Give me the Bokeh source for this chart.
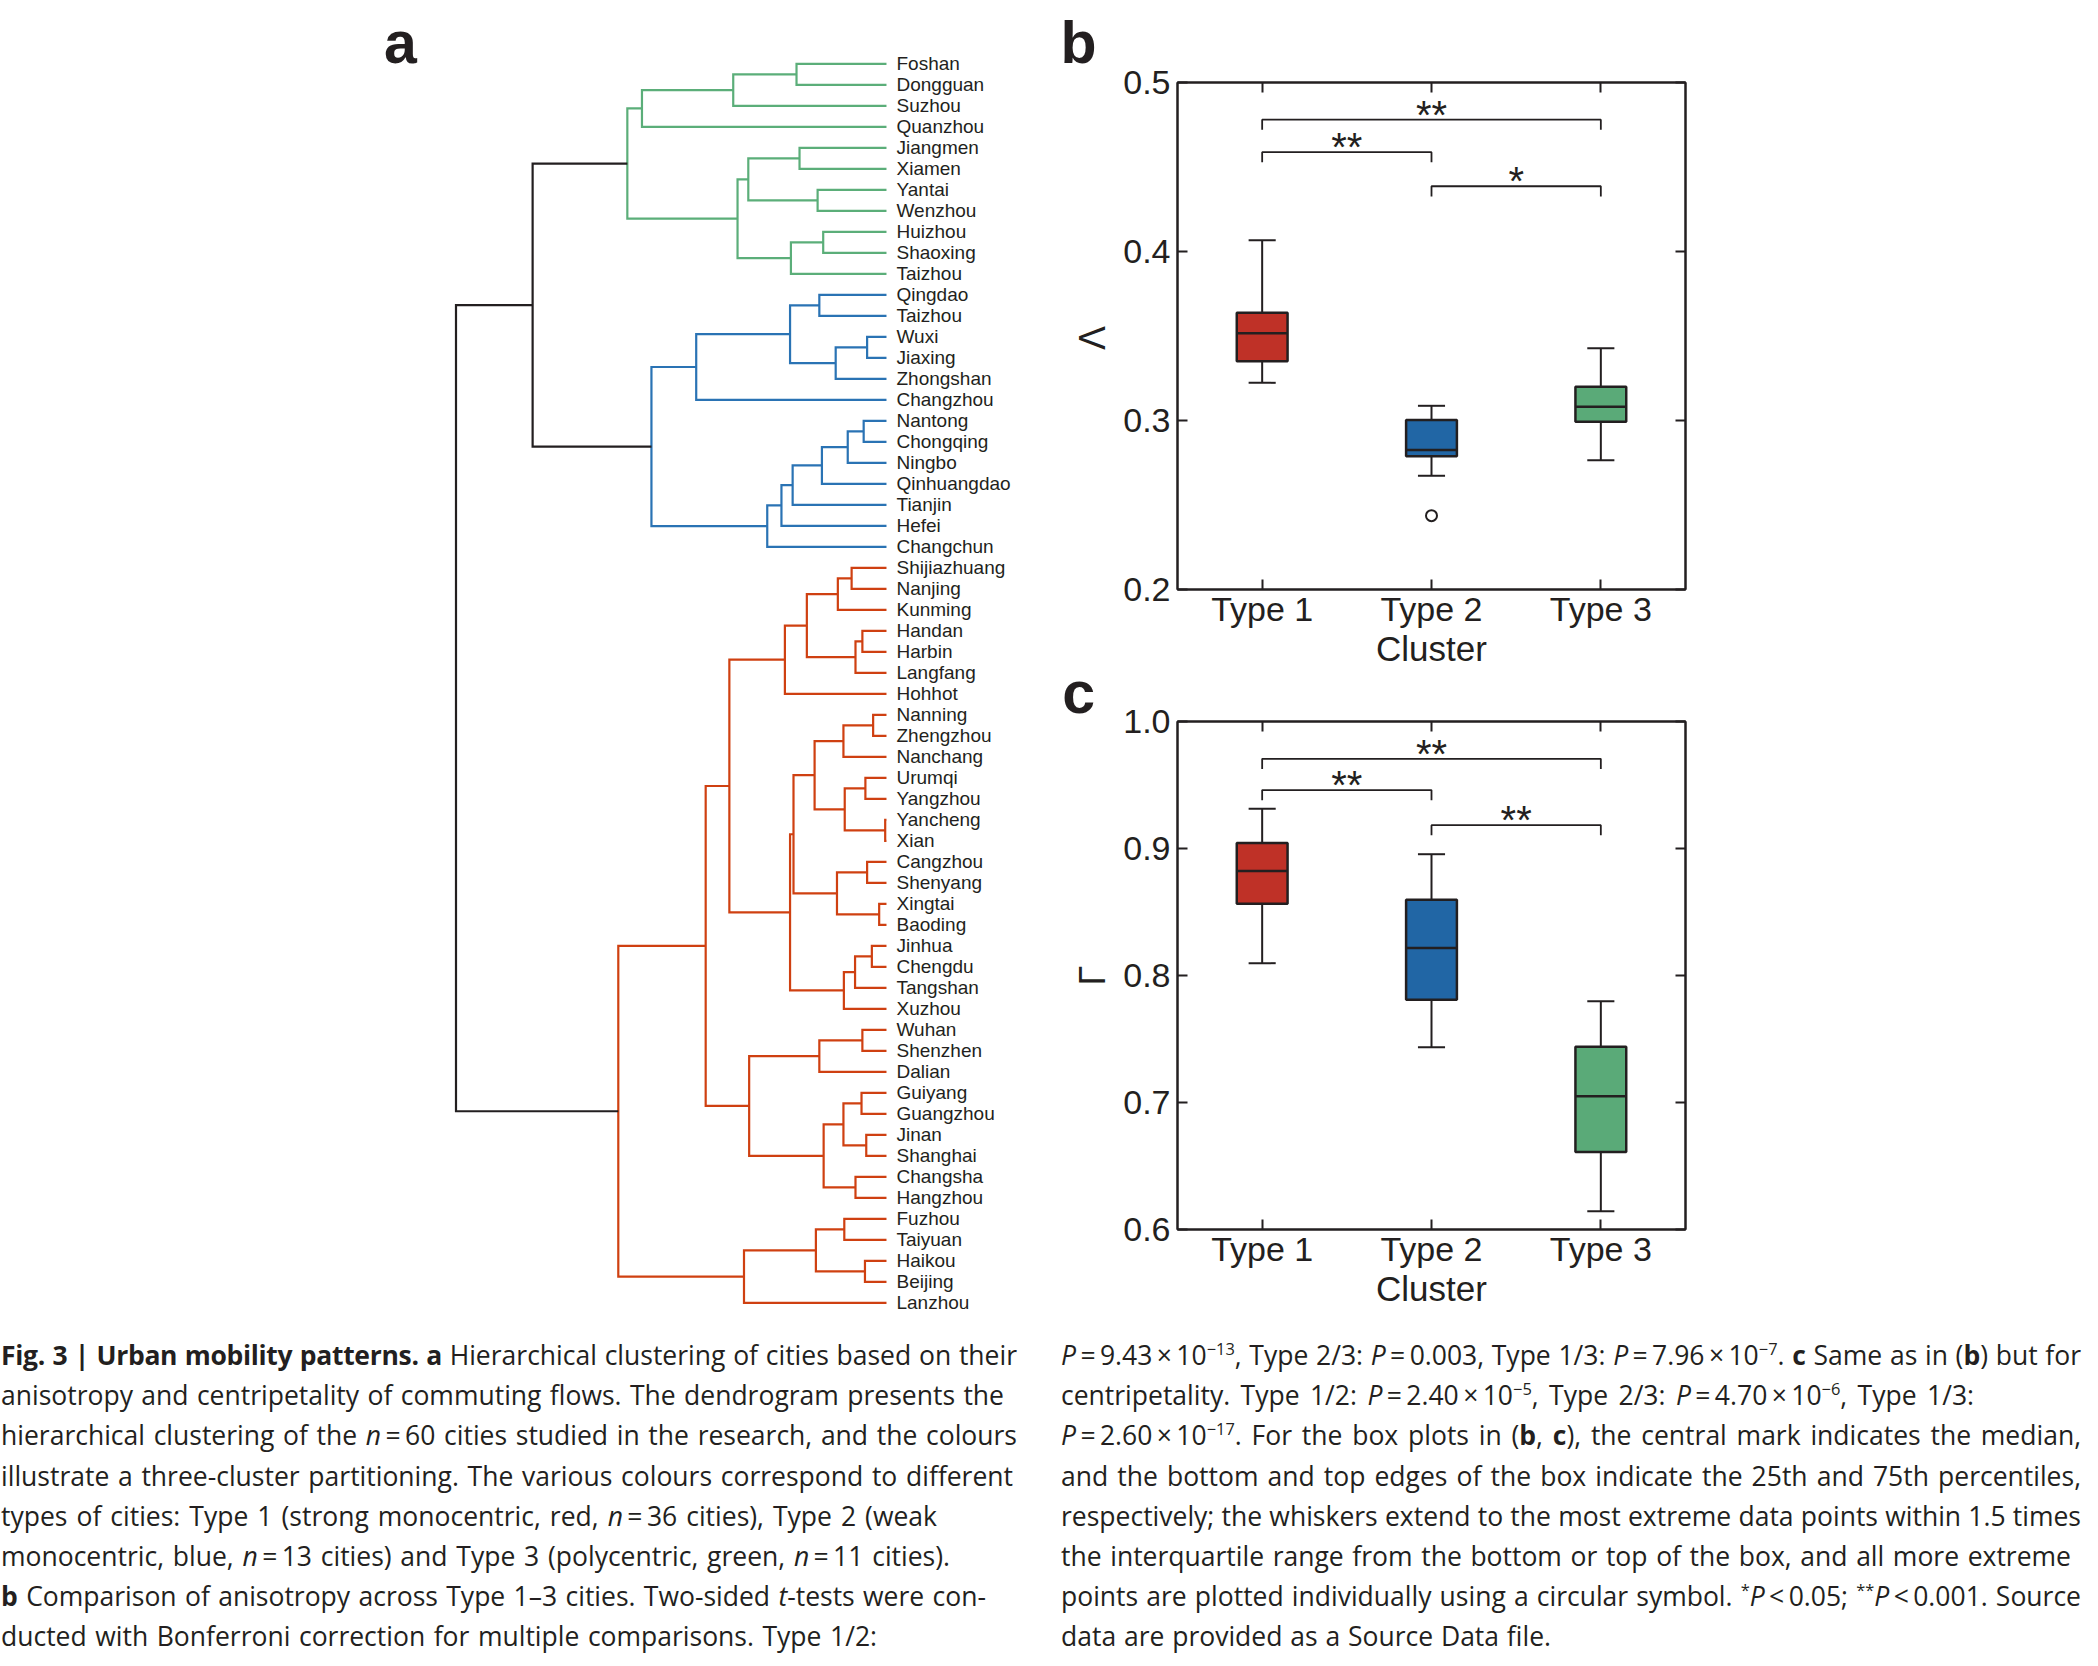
from bokeh.plotting import figure
from bokeh.models import Range1d, Label, LinearAxis, FixedTicker, Div, PrintfTickFormatter
from bokeh.layouts import row, column
from bokeh.embed import file_html
from bokeh.resources import INLINE
from bokeh.core.properties import value

# ---------------- data ----------------
cities = ["Foshan", "Dongguan", "Suzhou", "Quanzhou", "Jiangmen", "Xiamen", "Yantai", "Wenzhou",
          "Huizhou", "Shaoxing", "Taizhou", "Qingdao", "Taizhou", "Wuxi", "Jiaxing", "Zhongshan",
          "Changzhou", "Nantong", "Chongqing", "Ningbo", "Qinhuangdao", "Tianjin", "Hefei",
          "Changchun", "Shijiazhuang", "Nanjing", "Kunming", "Handan", "Harbin", "Langfang",
          "Hohhot", "Nanning", "Zhengzhou", "Nanchang", "Urumqi", "Yangzhou", "Yancheng", "Xian",
          "Cangzhou", "Shenyang", "Xingtai", "Baoding", "Jinhua", "Chengdu", "Tangshan", "Xuzhou",
          "Wuhan", "Shenzhen", "Dalian", "Guiyang", "Guangzhou", "Jinan", "Shanghai", "Changsha",
          "Hangzhou", "Fuzhou", "Taiyuan", "Haikou", "Beijing", "Lanzhou"]
# cluster type of each city (3 = polycentric, 2 = weak monocentric, 1 = strong monocentric)
city_type = [3, 3, 3, 3, 3, 3, 3, 3, 3, 3, 3,
             2, 2, 2, 2, 2, 2, 2, 2, 2, 2, 2, 2, 2,
             1, 1, 1, 1, 1, 1, 1, 1, 1, 1, 1, 1, 1, 1, 1, 1, 1, 1,
             1, 1, 1, 1, 1, 1, 1, 1, 1, 1, 1, 1, 1, 1, 1, 1, 1, 1]
# linkage (scipy style: leaves 0..59, merged nodes numbered from 60 on), heights relative to root
merge_left = [0, 60, 61, 4, 6, 63, 8, 66, 65, 62,
              11, 13, 71, 70, 73, 17, 75, 76, 77, 78, 79, 74, 69,
              24, 83, 27, 85, 84, 87, 31, 89, 34, 36, 91, 90, 38, 40, 95, 94,
              42, 99, 100, 98, 88, 46, 104, 49, 51, 106, 53, 108, 105, 103,
              55, 57, 113, 115, 112, 82]
merge_right = [1, 2, 3, 5, 7, 64, 9, 10, 67, 68,
               12, 14, 15, 72, 16, 18, 19, 20, 21, 22, 23, 80, 81,
               25, 26, 28, 29, 86, 30, 32, 33, 35, 37, 92, 93, 39, 41, 96, 97,
               43, 44, 45, 101, 102, 47, 48, 50, 52, 107, 54, 109, 110, 111,
               56, 58, 114, 59, 116, 117]
merge_height = [0.209, 0.356, 0.568, 0.202, 0.160, 0.321, 0.147, 0.222, 0.346, 0.602,
                0.156, 0.045, 0.118, 0.224, 0.442, 0.053, 0.090, 0.150, 0.218, 0.244, 0.277, 0.546, 0.822,
                0.081, 0.113, 0.056, 0.072, 0.185, 0.236, 0.031, 0.100, 0.049, 0.003, 0.097, 0.167,
                0.045, 0.017, 0.115, 0.216,
                0.034, 0.073, 0.099, 0.224, 0.365, 0.056, 0.156, 0.058, 0.047, 0.100, 0.072, 0.146,
                0.319, 0.420,
                0.098, 0.050, 0.164, 0.331, 0.623, 1.000]

box_categories = ["Type 1", "Type 2", "Type 3"]
box_positions = [1, 2, 3]

aniso_low = [0.3223, 0.2673, 0.2765]
aniso_q1 = [0.3350, 0.2788, 0.2992]
aniso_med = [0.3517, 0.2826, 0.3082]
aniso_q3 = [0.3637, 0.3003, 0.3200]
aniso_high = [0.4066, 0.3087, 0.3427]
aniso_outlier_pos = [2]
aniso_outlier_val = [0.2437]
aniso_pair_left = [1, 1, 2]
aniso_pair_right = [3, 2, 3]
aniso_pair_y = [0.478, 0.4588, 0.4386]
aniso_pair_sig = ["**", "**", "*"]

centri_low = [0.8097, 0.7435, 0.6143]
centri_q1 = [0.8565, 0.7810, 0.6611]
centri_med = [0.8822, 0.8217, 0.7049]
centri_q3 = [0.9044, 0.8596, 0.7438]
centri_high = [0.9313, 0.8955, 0.7797]
centri_pair_left = [1, 1, 2]
centri_pair_right = [3, 2, 3]
centri_pair_y = [0.9706, 0.9460, 0.9184]
centri_pair_sig = ["**", "**", "**"]

# ---------------- styles ----------------
FONT = "Liberation Sans"
INK = "#231F20"
DENDRO_COLORS = {0: INK, 1: "#CF4011", 2: "#2A73B4", 3: "#5BAE79"}
BOX_COLORS = ["#BF3127", "#2166A5", "#5AAA78"]

# ---------------- panel a: dendrogram (this canvas also carries the panel letters) ----------------
n = len(cities)
node_h = [0.0] * n
node_y = [float(i) for i in range(n)]
node_t = list(city_type)
xs, ys, cols = [], [], []
for l, r, h in zip(merge_left, merge_right, merge_height):
    t = node_t[l] if node_t[l] == node_t[r] else 0
    xs.append([node_h[l], h, h, node_h[r]])
    ys.append([node_y[l], node_y[l], node_y[r], node_y[r]])
    cols.append(DENDRO_COLORS[t])
    node_h.append(h)
    node_y.append((node_y[l] + node_y[r]) / 2.0)
    node_t.append(t)

pa = figure(width=1120, height=1320, x_range=Range1d(2.0581, -0.5436), y_range=Range1d(59.843, -3.014),
            output_backend="svg", toolbar_location=None, x_axis_location=None, y_axis_location=None,
            min_border=0, min_border_left=0, min_border_right=0, min_border_top=0, min_border_bottom=0)
pa.grid.visible = False
pa.outline_line_color = None
pa.multi_line(xs=xs, ys=ys, line_color=cols, line_width=2.2, line_join="miter")
pa.text(x=[0.0] * n, y=list(range(n)), text=cities, x_offset=10, text_baseline="middle",
        text_align="left", text_font=value(FONT), text_font_size="19px", text_color=INK)
for txt, lx, ly in (("a", 1.167, -1.0), ("b", -0.404, -1.0), ("c", -0.408, 29.98)):
    pa.add_layout(Label(x=lx, y=ly, text=txt, text_font=FONT, text_font_size="59px",
                        text_font_style="bold", text_color=INK, text_baseline="alphabetic"))
# y-axis titles of panels b and c
for txt, ly in (("Λ", 13.06), ("Γ", 43.42)):
    pa.add_layout(Label(x=-0.4792, y=ly, text=txt, angle=1.5708, text_font=FONT, text_font_size="36px",
                        text_color=INK, text_align="center", text_baseline="middle"))


# ---------------- panels b, c: box plots ----------------
def box_panel(height, b_top, b_bot, ylim, yticks, low, q1, med, q3, high,
              pl, pr, py, psig, drop, out_pos=None, out_val=None):
    p = figure(width=962, height=height, x_range=Range1d(0.5, 3.5), y_range=Range1d(*ylim),
               output_backend="svg", toolbar_location=None,
               min_border_left=57, min_border_right=397, min_border_top=b_top, min_border_bottom=b_bot)
    p.grid.visible = False
    p.outline_line_color = INK
    p.outline_line_width = 2
    xa = p.xaxis[0]
    xa.ticker = FixedTicker(ticks=box_positions)
    xa.major_label_overrides = {pos: c for pos, c in zip(box_positions, box_categories)}
    xa.axis_label = "Cluster"
    ya = p.yaxis[0]
    ya.ticker = FixedTicker(ticks=yticks)
    ya.formatter = PrintfTickFormatter(format="%.1f")
    for ax in (xa, ya):
        ax.major_tick_in = 10
        ax.major_tick_out = 0
        ax.minor_tick_in = 0
        ax.minor_tick_out = 0
        ax.axis_line_color = INK
        ax.axis_line_width = 2
        ax.major_tick_line_color = INK
        ax.major_tick_line_width = 2
        ax.major_label_text_font = FONT
        ax.major_label_text_font_size = "34px"
        ax.major_label_text_color = INK
    xa.axis_label_text_font = FONT
    xa.axis_label_text_font_style = "normal"
    xa.axis_label_text_color = INK
    xa.major_label_standoff = 0
    xa.axis_label_standoff = -2
    xa.axis_label_text_font_size = "35px"
    ya.major_label_standoff = 7
    top = LinearAxis(ticker=FixedTicker(ticks=box_positions),
                     major_label_overrides={pos: "" for pos in box_positions})
    right = LinearAxis(ticker=FixedTicker(ticks=yticks),
                       major_label_overrides={t: "" for t in yticks})
    for ax in (top, right):
        ax.major_tick_in = 10
        ax.major_tick_out = 0
        ax.minor_tick_in = 0
        ax.minor_tick_out = 0
        ax.major_label_standoff = 0
        ax.major_label_text_font_size = "1px"
        ax.axis_line_color = INK
        ax.axis_line_width = 2
        ax.major_tick_line_color = INK
        ax.major_tick_line_width = 2
    p.add_layout(top, "above")
    p.add_layout(right, "right")

    cap = 0.08
    half = 0.15
    p.segment(x0=box_positions, y0=q3, x1=box_positions, y1=high, line_color=INK, line_width=2)
    p.segment(x0=box_positions, y0=q1, x1=box_positions, y1=low, line_color=INK, line_width=2)
    p.segment(x0=[x - cap for x in box_positions], y0=high, x1=[x + cap for x in box_positions], y1=high,
              line_color=INK, line_width=2)
    p.segment(x0=[x - cap for x in box_positions], y0=low, x1=[x + cap for x in box_positions], y1=low,
              line_color=INK, line_width=2)
    p.vbar(x=box_positions, width=2 * half, bottom=q1, top=q3, fill_color=BOX_COLORS,
           line_color=INK, line_width=2.5)
    p.segment(x0=[x - half for x in box_positions], y0=med, x1=[x + half for x in box_positions], y1=med,
              line_color=INK, line_width=2.5)
    if out_pos:
        p.scatter(x=out_pos, y=out_val, marker="circle", size=11, fill_color="white",
                  line_color=INK, line_width=2)
    p.multi_line(xs=[[a, a, b, b] for a, b in zip(pl, pr)],
                 ys=[[y - drop, y, y, y - drop] for y in py], line_color=INK, line_width=1.8)
    p.text(x=[(a + b) / 2 for a, b in zip(pl, pr)], y=py, text=psig, text_align="center",
           text_baseline="alphabetic", y_offset=-5, text_font=value(FONT), text_font_size="40px",
           text_color=INK)
    return p


pb = box_panel(677, 82, 88, (0.2, 0.5), [0.2, 0.3, 0.4, 0.5],
               aniso_low, aniso_q1, aniso_med, aniso_q3, aniso_high,
               aniso_pair_left, aniso_pair_right, aniso_pair_y, aniso_pair_sig, 0.0060,
               aniso_outlier_pos, aniso_outlier_val)
pc = box_panel(643, 44, 91, (0.6, 1.0), [0.6, 0.7, 0.8, 0.9, 1.0],
               centri_low, centri_q1, centri_med, centri_q3, centri_high,
               centri_pair_left, centri_pair_right, centri_pair_y, centri_pair_sig, 0.0080)

# ---------------- caption ----------------
S = "&thinsp;"
SUP = '<sup style="line-height:0; font-size:0.62em;">'
left_lines = [
    '<b style="letter-spacing:-0.3px;">Fig. 3 | Urban mobility patterns. a</b> Hierarchical clustering of cities based on their',
    "anisotropy and centripetality of commuting flows. The dendrogram presents the",
    f"hierarchical clustering of the <i>n</i>{S}={S}60 cities studied in the research, and the colours",
    "illustrate a three-cluster partitioning. The various colours correspond to different",
    f"types of cities: Type 1 (strong monocentric, red, <i>n</i>{S}={S}36 cities), Type 2 (weak",
    f"monocentric, blue, <i>n</i>{S}={S}13 cities) and Type 3 (polycentric, green, <i>n</i>{S}={S}11 cities).",
    "<b>b</b> Comparison of anisotropy across Type 1–3 cities. Two-sided <i>t</i>-tests were con-",
    "ducted with Bonferroni correction for multiple comparisons. Type 1/2:",
]
left_widths = [1016, 1003, 1016, 1012, 936, 949, 985, 876]
right_lines = [
    f"<i>P</i>{S}={S}9.43{S}×{S}10{SUP}−13</sup>, Type 2/3: <i>P</i>{S}={S}0.003, Type 1/3: "
    f"<i>P</i>{S}={S}7.96{S}×{S}10{SUP}−7</sup>. <b>c</b> Same as in (<b>b</b>) but for",
    f"centripetality. Type 1/2: <i>P</i>{S}={S}2.40{S}×{S}10{SUP}−5</sup>, Type 2/3: "
    f"<i>P</i>{S}={S}4.70{S}×{S}10{SUP}−6</sup>, Type 1/3:",
    f"<i>P</i>{S}={S}2.60{S}×{S}10{SUP}−17</sup>. For the box plots in (<b>b</b>, <b>c</b>), the central mark indicates the median,",
    "and the bottom and top edges of the box indicate the 25th and 75th percentiles,",
    "respectively; the whiskers extend to the most extreme data points within 1.5 times",
    "the interquartile range from the bottom or top of the box, and all more extreme",
    f"points are plotted individually using a circular symbol. {SUP}*</sup><i>P</i>{S}&lt;{S}0.05; "
    f"{SUP}**</sup><i>P</i>{S}&lt;{S}0.001. Source",
    "data are provided as a Source Data file.",
]
right_widths = [1020, 913, 1020, 1020, 1020, 1010, 1020, 490]

BOX_STYLE = ("font-family:'Open Sans'; font-size:26.5px; line-height:40.2px; color:#231F20; "
             "padding-top:10px;")
LINE_STYLE = ("height:40.2px; white-space:nowrap; text-align:justify; text-align-last:justify; "
              "text-justify:inter-word; width:{w}px;")


def caption_html(lines, widths, extra=""):
    body = "".join(f'<div style="{LINE_STYLE.format(w=w)}">{t}</div>' for t, w in zip(lines, widths))
    return f'<div style="{BOX_STYLE}{extra}">{body}</div>'


cap_left = Div(text=caption_html(left_lines, left_widths, " margin-left:-4px;"), width=1046, height=330)
cap_right = Div(text=caption_html(right_lines, right_widths), width=1036, height=330)

layout = column(row(pa, column(pb, pc, spacing=0), spacing=0), row(cap_left, cap_right, spacing=0), spacing=0)

with open("out.html", "w") as f:
    f.write(file_html(layout, INLINE))
